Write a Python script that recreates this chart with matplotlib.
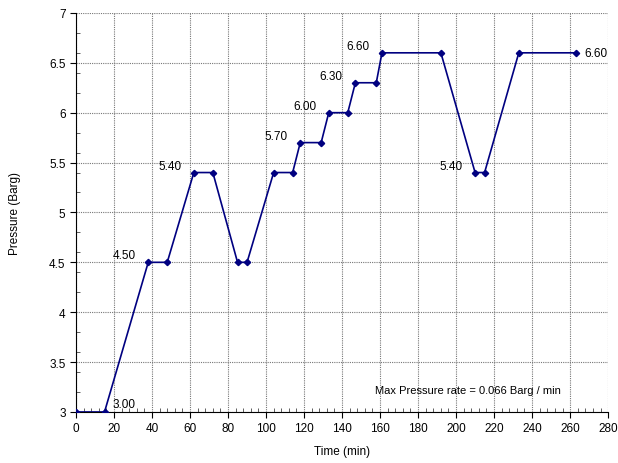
import matplotlib
matplotlib.use('Agg')
import matplotlib.pyplot as plt
from matplotlib.ticker import MultipleLocator

plt.rcParams['font.family'] = ['Liberation Sans', 'DejaVu Sans']

# pressure test log
time_min = [0, 15, 38, 48, 62, 72, 85, 90, 104, 114, 118, 129, 133, 143, 147, 158, 161, 192, 210, 215, 233, 263]
pressure = [3.0, 3.0, 4.5, 4.5, 5.4, 5.4, 4.5, 4.5, 5.4, 5.4, 5.7, 5.7, 6.0, 6.0, 6.3, 6.3, 6.6, 6.6, 5.4, 5.4, 6.6, 6.6]

# points that get a value label, and which side the label sits on
label_idx = [1, 2, 4, 10, 12, 14, 16, 18, 21]
label_side = ['above', 'left', 'left', 'left', 'left', 'left', 'left', 'left', 'right']

fig = plt.figure(figsize=(6.18, 4.64), dpi=100)
ax = fig.add_axes([0.123, 0.110, 0.861, 0.860])

ax.plot(time_min, pressure, color='#000080', lw=1.2, marker='D', ms=3.2, zorder=3)

for i, side in zip(label_idx, label_side):
    txt = f'{pressure[i]:.2f}'
    xy = (time_min[i], pressure[i])
    if side == 'left':
        ax.annotate(txt, xy, xytext=(-9, 5), textcoords='offset points',
                    ha='right', va='center', fontsize=8.5)
    elif side == 'above':
        ax.annotate(txt, xy, xytext=(6, 5.5), textcoords='offset points',
                    ha='left', va='center', fontsize=8.5)
    else:
        ax.annotate(txt, xy, xytext=(6.5, 0), textcoords='offset points',
                    ha='left', va='center', fontsize=8.5)

ax.text(206, 3.22, 'Max Pressure rate = 0.066 Barg / min', ha='center', va='center', fontsize=8)

ax.set_xlim(0, 280)
ax.set_ylim(3, 7)
ax.xaxis.set_major_locator(MultipleLocator(20))
ax.xaxis.set_minor_locator(MultipleLocator(4))
ax.yaxis.set_major_locator(MultipleLocator(0.5))
ax.yaxis.set_minor_locator(MultipleLocator(0.2))
ax.yaxis.set_major_formatter(plt.FuncFormatter(lambda v, p: f'{v:g}'))
ax.tick_params(which='major', direction='out', length=4, labelsize=8.5)
ax.tick_params(which='minor', direction='in', length=3, color='#444444')
ax.grid(True, which='major', color='#777777', ls=(0, (1, 1)), lw=0.8)

for s in ['top', 'right']:
    ax.spines[s].set_visible(False)

ax.set_xlabel('Time (min)', fontsize=8.5, labelpad=8)
ax.set_ylabel('Pressure (Barg)', fontsize=8.5, labelpad=20)

fig.savefig('out.png', dpi=100)
